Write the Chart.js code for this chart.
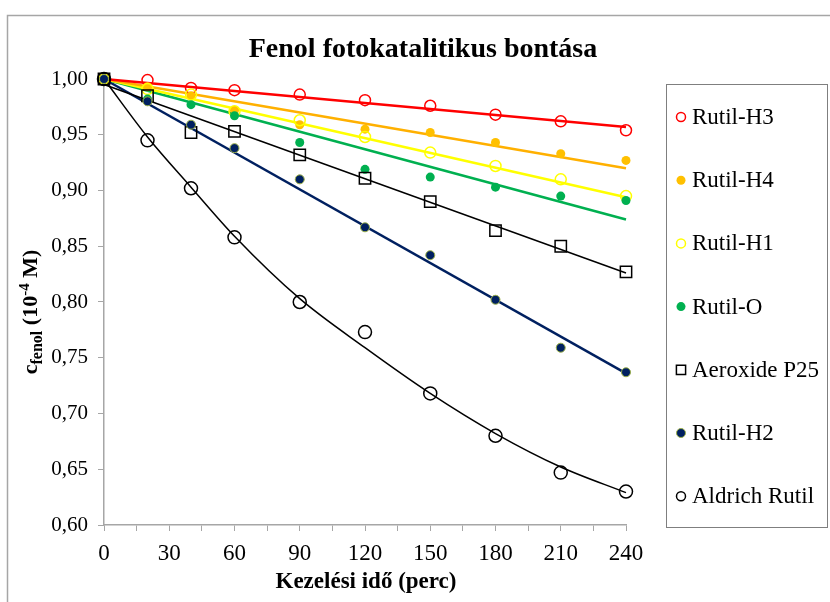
<!DOCTYPE html>
<html>
<head>
<meta charset="utf-8">
<title>Fenol fotokatalitikus bontása</title>
<script src="https://cdn.jsdelivr.net/npm/chart.js@4"></script>
<style>
  body { margin: 0; background: #fff; }
  canvas { display: block; }
</style>
</head>
<body>
<canvas id="fenolChart" width="830" height="602"></canvas>
<script>
// measured points (10^-4 M) at each treatment time (perc)
const times = [0, 20, 40, 60, 90, 120, 150, 180, 210, 240];
const rutilH3 = [1.000, 0.999, 0.992, 0.990, 0.986, 0.981, 0.976, 0.968, 0.962, 0.954];
const rutilH4 = [1.000, 0.993, 0.985, 0.972, 0.959, 0.955, 0.952, 0.943, 0.933, 0.927];
const rutilH1 = [1.000, 0.991, 0.986, 0.971, 0.963, 0.948, 0.934, 0.922, 0.910, 0.895];
const rutilO = [1.000, 0.982, 0.977, 0.967, 0.943, 0.919, 0.912, 0.903, 0.895, 0.891];
const aeroxide = [1.000, 0.985, 0.952, 0.953, 0.932, 0.911, 0.890, 0.864, 0.850, 0.827];
const rutilH2 = [1.000, 0.980, 0.959, 0.938, 0.910, 0.867, 0.842, 0.802, 0.759, 0.737];
const aldrich = [1.000, 0.945, 0.902, 0.858, 0.800, 0.773, 0.718, 0.680, 0.647, 0.630];

// trend lines
const fitTimes = [0, 240];
const rutilH3Fit = [1.000, 0.957];
const rutilH4Fit = [1.000, 0.920];
const rutilH1Fit = [1.000, 0.894];
const rutilOFit = [1.000, 0.874];
const aeroxideFit = [0.995, 0.826];
const rutilH2Fit = [1.000, 0.736];
const aldrichFit = [1.000, 0.948, 0.903, 0.859, 0.803, 0.759, 0.718, 0.682, 0.652, 0.629];

const seriesNames = ["Rutil-H3", "Rutil-H4", "Rutil-H1", "Rutil-O", "Aeroxide P25", "Rutil-H2", "Aldrich Rutil"];

const serif = "'Liberation Serif', 'Times New Roman', serif";

function toPoints(xs, ys) {
    return xs.map((x, i) => ({ x: x, y: ys[i] }));
}

// later series sit on top, like the original
function markers(idx, values, style) {
    return Object.assign({
        label: seriesNames[idx],
        data: toPoints(times, values),
        showLine: false,
        clip: false,
        order: 10 - idx
    }, style);
}

function trend(values, xs, color, width) {
    return {
        label: "",
        isFit: true,
        data: toPoints(xs, values),
        showLine: true,
        borderColor: color,
        borderWidth: width,
        pointRadius: 0,
        pointHoverRadius: 0,
        tension: 0.4,
        cubicInterpolationMode: "monotone",
        clip: false,
        order: 30
    };
}

const datasets = [
    markers(0, rutilH3, { pointStyle: "circle", pointRadius: 5.5, borderColor: "#ff0000", backgroundColor: "rgba(255,255,255,0)", borderWidth: 1.5 }),
    markers(1, rutilH4, { pointStyle: "circle", pointRadius: 4.5, borderColor: "#ffc000", backgroundColor: "#ffc000", borderWidth: 0 }),
    markers(2, rutilH1, { pointStyle: "circle", pointRadius: 5.5, borderColor: "#ffff00", backgroundColor: "rgba(255,255,255,0)", borderWidth: 1.5 }),
    markers(3, rutilO, { pointStyle: "circle", pointRadius: 4.5, borderColor: "#00b050", backgroundColor: "#00b050", borderWidth: 0 }),
    markers(4, aeroxide, { pointStyle: "rect", pointRadius: 8, borderColor: "#000000", backgroundColor: "rgba(255,255,255,0)", borderWidth: 1.5 }),
    markers(5, rutilH2, { pointStyle: "circle", pointRadius: 4.5, borderColor: "#9bb048", backgroundColor: "#002060", borderWidth: 1 }),
    markers(6, aldrich, { pointStyle: "circle", pointRadius: 6.5, borderColor: "#000000", backgroundColor: "rgba(255,255,255,0)", borderWidth: 1.5 }),
    trend(rutilH3Fit, fitTimes, "#ff0000", 2.5),
    trend(rutilH4Fit, fitTimes, "#ffb000", 2.5),
    trend(rutilH1Fit, fitTimes, "#ffff00", 2.5),
    trend(rutilOFit, fitTimes, "#00b050", 2.5),
    trend(aeroxideFit, fitTimes, "#000000", 1.5),
    trend(rutilH2Fit, fitTimes, "#002060", 2.5),
    trend(aldrichFit, times, "#000000", 1.5)
];

// frame, titles and the boxed legend
const decor = {
    id: "decor",
    beforeDraw(chart) {
        const ctx = chart.ctx;
        ctx.save();
        ctx.fillStyle = "#ffffff";
        ctx.fillRect(0, 0, chart.width, chart.height);
        ctx.strokeStyle = "#a6a6a6";
        ctx.lineWidth = 1.5;
        ctx.strokeRect(7.5, 15.5, chart.width + 20, chart.height + 20);
        ctx.restore();
    },
    afterDraw(chart) {
        const ctx = chart.ctx;
        ctx.save();
        ctx.fillStyle = "#000000";
        ctx.textBaseline = "alphabetic";

        // chart title
        ctx.font = "bold 28px " + serif;
        ctx.textAlign = "center";
        ctx.fillText("Fenol fotokatalitikus bontása", 423, 57);

        // x axis title
        ctx.font = "bold 23px " + serif;
        ctx.fillText("Kezelési idő (perc)", 366, 588);

        // y axis title with subscript and superscript
        const parts = [
            { t: "c", size: 22, dy: 0 },
            { t: "fenol", size: 16, dy: 5 },
            { t: " (10", size: 22, dy: 0 },
            { t: "-4", size: 15, dy: -8 },
            { t: " M)", size: 22, dy: 0 }
        ];
        let total = 0;
        parts.forEach(p => {
            ctx.font = "bold " + p.size + "px " + serif;
            p.w = ctx.measureText(p.t).width;
            total += p.w;
        });
        ctx.translate(37, 312);
        ctx.rotate(-Math.PI / 2);
        ctx.textAlign = "left";
        let x = -total / 2;
        parts.forEach(p => {
            ctx.font = "bold " + p.size + "px " + serif;
            ctx.fillText(p.t, x, p.dy);
            x += p.w;
        });
        ctx.restore();

        // legend
        ctx.save();
        ctx.strokeStyle = "#7f7f7f";
        ctx.lineWidth = 1;
        ctx.strokeRect(666.5, 84.5, 161, 443);
        ctx.font = "23px " + serif;
        ctx.textAlign = "left";
        ctx.textBaseline = "middle";
        chart.data.datasets.filter(d => !d.isFit).forEach((d, i) => {
            const y = 117 + i * 63.2;
            ctx.fillStyle = d.backgroundColor;
            ctx.strokeStyle = d.borderColor;
            ctx.lineWidth = d.borderWidth || 1;
            const r = d.pointStyle === "rect" ? 6.5 : 4.5;
            Chart.helpers.drawPoint(ctx, { pointStyle: d.pointStyle, radius: r, rotation: 0, borderWidth: d.borderWidth }, 681, y);
            ctx.fillStyle = "#000000";
            ctx.fillText(d.label, 692, y + 1);
        });
        ctx.restore();
    }
};

new Chart(document.getElementById("fenolChart"), {
    type: "scatter",
    data: { datasets: datasets },
    options: {
        responsive: false,
        animation: false,
        devicePixelRatio: 1,
        layout: { padding: { top: 79, right: 204, bottom: 0, left: 0 } },
        plugins: {
            legend: { display: false },
            tooltip: { enabled: false }
        },
        scales: {
            x: {
                type: "linear",
                min: 0,
                max: 240,
                afterFit: scale => { scale.height = 77; },
                border: { color: "#a6a6a6", width: 1.5 },
                grid: { drawOnChartArea: false, color: "#a6a6a6", tickLength: 6 },
                ticks: {
                    stepSize: 15,
                    autoSkip: false,
                    maxRotation: 0,
                    padding: 9,
                    color: "#000000",
                    font: { family: serif, size: 23 },
                    callback: v => (v % 30 === 0 ? String(v) : "")
                }
            },
            y: {
                min: 0.6,
                max: 1.0,
                afterFit: scale => { scale.width = 104; },
                border: { color: "#a6a6a6", width: 1.5 },
                grid: { drawOnChartArea: false, color: "#a6a6a6", tickLength: 6 },
                ticks: {
                    stepSize: 0.05,
                    padding: 10,
                    color: "#000000",
                    font: { family: serif, size: 21 },
                    callback: v => v.toFixed(2).replace(".", ",")
                }
            }
        }
    },
    plugins: [decor]
});
</script>
</body>
</html>
